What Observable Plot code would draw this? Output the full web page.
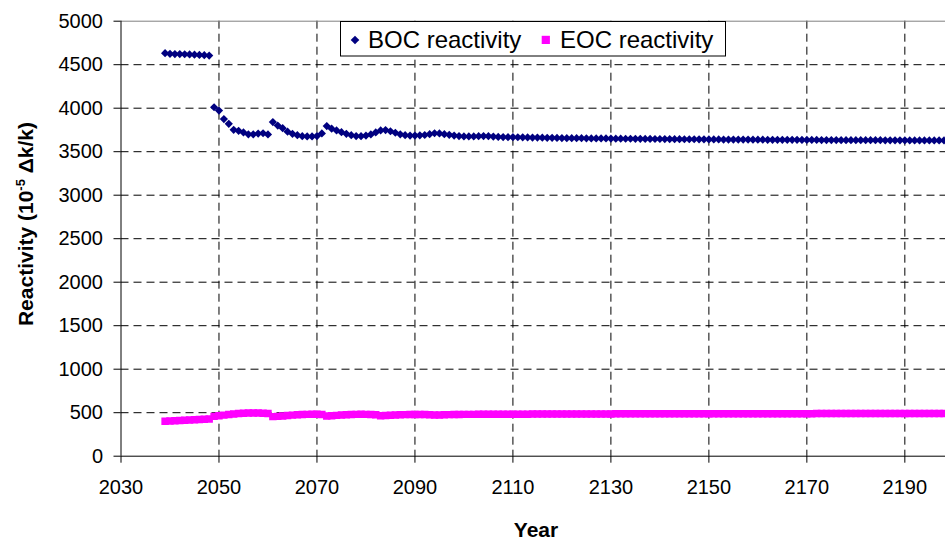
<!DOCTYPE html>
<html><head><meta charset="utf-8">
<script src="https://cdn.jsdelivr.net/npm/d3@7"></script>
<script src="https://cdn.jsdelivr.net/npm/@observablehq/plot@0.6"></script>
<style>
body{margin:0;background:#fff;}
#chart{position:relative;width:945px;height:540px;overflow:hidden;background:#fff}
</style>
</head><body><div id="chart"></div>
<script>
const firstYear = 2039;
const bocValues = [
 4632,4625,4622,4622,4620,4618,4615,4612,4610,4605,
 4011,3973,3875,3820,3752,3740,3722,3700,3700,3708,3712,3698,
 3840,3800,3770,3730,3705,3690,3678,3675,3675,3680,3710,
 3795,3765,3745,3725,3705,3690,3680,3678,3685,3698,3722,
 3745,3748,3735,3718,3700,3690,3686,3686,3688,3692,3702,
 3712,3710,3702,3694,3686,3680,3676,3675,3676,3678,3680,3678,3674,3670,3668,3667,3667,
 3666,3665,3664,3663,3662,3661,3660,3659,3658,3657,
 3656,3656,3655,3655,3654,3653,3653,3652,3652,3651,
 3650,3650,3649,3649,3648,3648,3647,3647,3646,3646,
 3645,3645,3644,3644,3643,3643,3643,3642,3642,3641,
 3641,3641,3640,3640,3640,3639,3639,3639,3638,3638,
 3638,3637,3637,3637,3636,3636,3636,3636,3635,3635,
 3635,3635,3634,3634,3634,3634,3633,3633,3633,3633,
 3632,3632,3632,3632,3632,3631,3631,3631,3631,3631,
 3630,3630,3630,3630,3630,3629,3629,3629
];
const eocValues = [
 402,405,408,410,413,416,419,422,425,428,
 458,465,472,480,486,490,494,496,497,496,494,490,
 455,458,462,467,472,476,479,481,482,482,480,
 462,465,469,473,476,479,481,482,481,479,476,
 466,467,470,473,476,478,479,480,480,479,477,
 474,474,476,478,479,480,481,481,481,482,482,482,482,482,482,483,483,
 483,483,483,484,484,484,484,484,485,485,
 485,485,485,485,486,486,486,486,486,486,
 487,487,487,487,487,487,487,487,487,487,
 487,488,488,488,488,488,488,488,488,488,
 488,488,488,488,489,489,489,489,489,489,
 489,489,489,489,489,489,489,489,489,489,
 489,490,490,490,490,490,490,490,490,490,
 490,490,490,490,490,490,490,490,490,490,
 490,490,490,490,490,490,490,490
];
const xTicks = [2030,2050,2070,2090,2110,2130,2150,2170,2190];
const yTicks = [0,500,1000,1500,2000,2500,3000,3500,4000,4500,5000];
const seriesLabels = ["BOC reactivity","EOC reactivity"];
const seriesColors = ["#000080","#FF00FF"];
const xTitle = "Year";

const boc = bocValues.map((v,i)=>({year:firstYear+i, value:v}));
const eoc = eocValues.map((v,i)=>({year:firstYear+i, value:v}));

const FONT = "Liberation Sans, Arial, sans-serif";
const dash = "8,5";

const plot = Plot.plot({
  width:945, height:540,
  marginLeft:120.5, marginRight:0, marginTop:20.7, marginBottom:84.3,
  x:{domain:[2030,2198.3]},
  y:{domain:[0,5000]},
  style:{fontFamily:FONT, fontSize:"20px", color:"#000", background:"#fff", overflow:"hidden"},
  marks:[
    Plot.gridX(xTicks.filter(t=>t!==2030), {stroke:"#000", strokeOpacity:1, strokeDasharray:dash}),
    Plot.gridY(yTicks.filter(t=>t!==0 && t!==5000), {stroke:"#000", strokeOpacity:1, strokeDasharray:dash}),
    Plot.ruleY([5000], {stroke:"#808080"}),
    Plot.axisY(yTicks, {tickSize:7, tickPadding:11, label:null, fontSize:20, tickFormat:d=>String(d)}),
    Plot.axisX(xTicks, {tickSize:7, tickPadding:17, label:null, fontSize:20, tickFormat:d=>String(d)}),
    Plot.ruleX([2030], {stroke:"#000"}),
    Plot.ruleY([0], {stroke:"#000"}),
    Plot.dot(boc, {x:"year", y:"value", symbol:"diamond2", r:3.7, fill:seriesColors[0], stroke:null, clip:true}),
    Plot.dot(eoc, {x:"year", y:"value", symbol:"square", r:4.2, fill:seriesColors[1], stroke:null, clip:true})
  ]
});
document.getElementById("chart").appendChild(plot);

const svg = d3.select(plot);
// y-axis title
const yt = svg.append("text")
  .attr("transform","translate(33,224) rotate(-90)")
  .attr("text-anchor","middle")
  .attr("font-family",FONT).attr("font-weight","bold").attr("font-size",21).attr("fill","#000");
yt.append("tspan").text("Reactivity (10");
yt.append("tspan").attr("font-size",13).attr("dy",-8).text("-5");
yt.append("tspan").attr("dy",8).text(" Δk/k)");
// x-axis title
svg.append("text").attr("x",536).attr("y",537).attr("text-anchor","middle")
  .attr("font-family",FONT).attr("font-weight","bold").attr("font-size",21).attr("fill","#000").text(xTitle);

// legend
const lg = svg.append("g").attr("font-family",FONT).attr("font-size",24).attr("fill","#000").attr("text-anchor","start");
lg.append("rect").attr("x",340.5).attr("y",21.5).attr("width",385).attr("height",34.5)
  .attr("fill","#fff").attr("stroke","#000").attr("stroke-width",1);
lg.append("path").attr("d",d3.symbol(d3.symbolDiamond2, 4.3*4.3*2.55)()).attr("transform","translate(355,40)").attr("fill",seriesColors[0]);
lg.append("text").attr("x",368).attr("y",47.5).attr("text-anchor","start").text(seriesLabels[0]);
lg.append("rect").attr("x",541.7).attr("y",35.8).attr("width",8.2).attr("height",8.2).attr("fill",seriesColors[1]);
lg.append("text").attr("x",560).attr("y",47.5).attr("text-anchor","start").text(seriesLabels[1]);
</script>
</body></html>
